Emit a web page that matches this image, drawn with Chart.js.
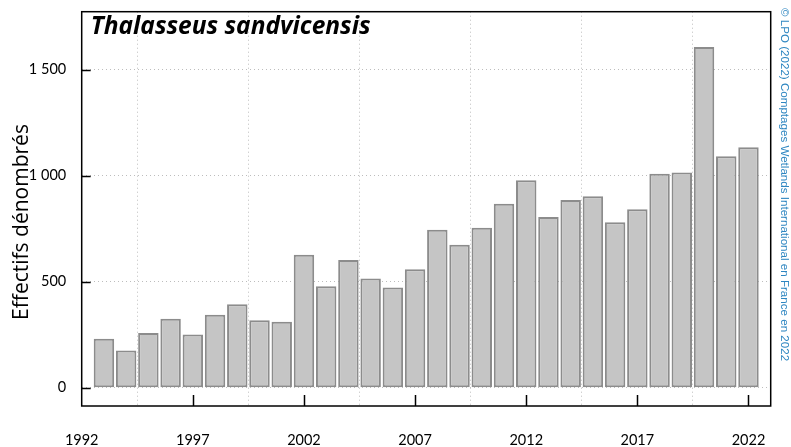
<!DOCTYPE html>
<html>
<head>
<meta charset="utf-8">
<script src="https://cdn.jsdelivr.net/npm/chart.js@4/dist/chart.umd.min.js"></script>
<style>
  html, body { margin: 0; padding: 0; background: #ffffff; }
  #wrap { width: 791px; height: 447px; }
</style>
</head>
<body>
<div id="wrap"><canvas id="chart" width="791" height="447"></canvas></div>
<script>
// Winter counts of Sandwich tern, one bar per year
const years = [1993, 1994, 1995, 1996, 1997, 1998, 1999, 2000, 2001, 2002,
               2003, 2004, 2005, 2006, 2007, 2008, 2009, 2010, 2011, 2012,
               2013, 2014, 2015, 2016, 2017, 2018, 2019, 2020, 2021, 2022];
const counts = [231, 176, 258, 325, 251, 344, 394, 319, 312, 627,
                479, 603, 515, 473, 559, 745, 675, 755, 868, 979,
                806, 886, 903, 781, 842, 1010, 1015, 1607, 1092, 1134];

const xTickYears = [1992, 1997, 2002, 2007, 2012, 2017, 2022];
const yTickValues = [0, 500, 1000, 1500];

const speciesName = 'Thalasseus sandvicensis';
const yAxisTitle = 'Effectifs dénombrés';
const creditText = '© LPO (2022) Comptages Wetlands International en France en 2022';

// thousands separated by a space, French style
const fmt = v => String(v).replace(/\B(?=(\d{3})+(?!\d))/g, ' ');

// Frame, inward tick marks and overlay texts
const decorations = {
  id: 'decorations',
  afterDraw(chart) {
    const { ctx, chartArea: a, scales } = chart;
    ctx.save();
    ctx.strokeStyle = '#000';
    ctx.lineWidth = 1.5;
    ctx.strokeRect(a.left, a.top, a.right - a.left, a.bottom - a.top);

    ctx.beginPath();
    xTickYears.forEach(v => {
      const px = Math.round(scales.x.getPixelForValue(v)) + 0.5;
      if (px > a.left + 2 && px < a.right - 2) {
        ctx.moveTo(px, a.bottom);
        ctx.lineTo(px, a.bottom - 11);
      }
    });
    yTickValues.forEach(v => {
      const py = Math.round(scales.y.getPixelForValue(v)) + 0.5;
      ctx.moveTo(a.left, py);
      ctx.lineTo(a.left + 9, py);
    });
    ctx.stroke();

    // species name
    ctx.fillStyle = '#000';
    ctx.font = 'italic bold 24.5px "Open Sans"';
    ctx.textBaseline = 'alphabetic';
    ctx.textAlign = 'left';
    ctx.fillText(speciesName, a.left + 9, 34);

    // y axis title
    ctx.save();
    ctx.translate(28, 222);
    ctx.rotate(-Math.PI / 2);
    ctx.textAlign = 'center';
    ctx.font = '21px "Open Sans"';
    ctx.fillText(yAxisTitle, 0, 0);
    ctx.restore();

    // credit line on the right
    ctx.save();
    ctx.translate(781, 8);
    ctx.rotate(Math.PI / 2);
    ctx.textAlign = 'left';
    ctx.fillStyle = '#2e86c1';
    ctx.font = '11.6px "Liberation Sans"';
    ctx.fillText(creditText, 0, 0);
    ctx.restore();

    ctx.restore();
  }
};

new Chart(document.getElementById('chart'), {
  type: 'bar',
  data: {
    datasets: [{
      data: years.map((y, i) => ({ x: y, y: counts[i] })),
      backgroundColor: '#c5c5c5',
      borderColor: '#8c8c8c',
      borderWidth: 2,
      borderSkipped: false,
      barPercentage: 0.92,
      categoryPercentage: 1.0
    }]
  },
  options: {
    responsive: false,
    animation: false,
    layout: { padding: { top: 11.7, right: 20.3, left: 0, bottom: 0 } },
    plugins: { legend: { display: false }, tooltip: { enabled: false } },
    scales: {
      x: {
        type: 'linear',
        min: 1992,
        max: 2023,
        offset: false,
        afterBuildTicks: s => { s.ticks = xTickYears.map(v => ({ value: v })); },
        afterFit: s => { s.height = 41; s.paddingLeft = 0; s.paddingRight = 0; },
        ticks: {
          color: '#000',
          font: { family: 'Lato', size: 14.5 },
          padding: 26,
          maxRotation: 0,
          autoSkip: false,
          callback: v => String(v)
        },
        grid: { color: '#bdbdbd', lineWidth: 1, drawTicks: false },
        border: { display: false, dash: [1, 3] }
      },
      y: {
        min: -86,
        max: 1774,
        afterBuildTicks: s => { s.ticks = yTickValues.map(v => ({ value: v })); },
        afterFit: s => { s.width = 81.7; s.paddingTop = 0; s.paddingBottom = 0; },
        ticks: {
          color: '#000',
          font: { family: 'Lato', size: 14.5 },
          padding: 15.5,
          callback: v => fmt(v)
        },
        grid: { color: '#bdbdbd', lineWidth: 1, drawTicks: false },
        border: { display: false, dash: [1, 3] }
      }
    }
  },
  plugins: [decorations]
});
</script>
</body>
</html>
